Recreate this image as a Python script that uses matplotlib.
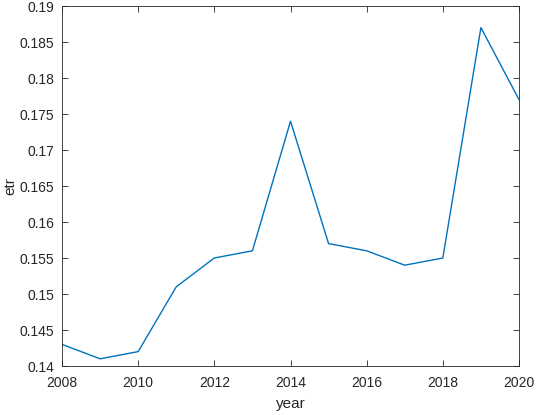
import matplotlib
matplotlib.use('Agg')
import matplotlib.pyplot as plt

years = [2008, 2009, 2010, 2011, 2012, 2013, 2014, 2015, 2016, 2017, 2018, 2019, 2020]
etr = [0.143, 0.141, 0.142, 0.151, 0.155, 0.156, 0.174, 0.157, 0.156, 0.154, 0.155, 0.187, 0.177]

plt.rcParams['font.family'] = ['Liberation Sans', 'DejaVu Sans']

fig = plt.figure(figsize=(5.36, 4.15), dpi=100)
ax = fig.add_axes([62 / 536, 1 - 366 / 415, (519 - 62) / 536, (366 - 6) / 415])

ax.plot(years, etr, color='#0072BD', linewidth=1.0)

ax.set_xlim(2008, 2020)
ax.set_ylim(0.14, 0.19)
ax.set_xticks(range(2008, 2021, 2))
ax.set_yticks([0.14, 0.145, 0.15, 0.155, 0.16, 0.165, 0.17, 0.175, 0.18, 0.185, 0.19])
ax.set_yticklabels(['0.14', '0.145', '0.15', '0.155', '0.16', '0.165', '0.17', '0.175', '0.18', '0.185', '0.19'])

ax.tick_params(direction='in', length=4, width=0.6, colors='#262626', labelsize=10,
               top=True, right=True, labeltop=False, labelright=False)
ax.tick_params(axis='x', pad=7.5)
ax.tick_params(axis='y', pad=5.5)
for s in ax.spines.values():
    s.set_color('#262626')
    s.set_linewidth(0.6)

ax.set_xlabel('year', fontsize=11, color='#262626', labelpad=5)
ax.set_ylabel('etr', fontsize=11, color='#262626', labelpad=1.5)

fig.savefig('out.png', dpi=100)
